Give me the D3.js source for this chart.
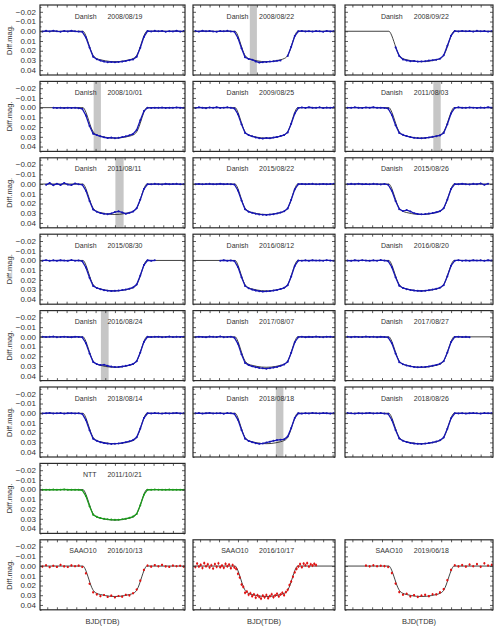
<!DOCTYPE html>
<html>
<head>
<meta charset="utf-8">
<script src="https://cdn.jsdelivr.net/npm/d3@7"></script>
<style>
  body { margin: 0; background: #fff; }
  svg { display: block; }
  text { font-family: "Liberation Sans", Arial, sans-serif; fill: #333; }
</style>
</head>
<body>
<div id="chart"></div>
<script>
// one entry per light curve, in reading order
const telescopes = ["Danish", "Danish", "Danish", "Danish", "Danish", "Danish", "Danish", "Danish", "Danish",
  "Danish", "Danish", "Danish", "Danish", "Danish", "Danish", "Danish", "Danish", "Danish",
  "NTT", "SAAO10", "SAAO10", "SAAO10"];
const dates = ["2008/08/19", "2008/08/22", "2008/09/22", "2008/10/01", "2009/08/25", "2011/08/03",
  "2011/08/11", "2015/08/22", "2015/08/26", "2015/08/30", "2016/08/12", "2016/08/20",
  "2016/08/24", "2017/08/07", "2017/08/27", "2018/08/14", "2018/08/18", "2018/08/26",
  "2011/10/21", "2016/10/13", "2016/10/17", "2019/06/18"];

// time of first sample (days from mid-transit) and sampling step
const firstTime = [-0.15, -0.15, -0.0525, -0.1275, -0.15, -0.15, -0.1425, -0.15, -0.15, -0.15, -0.0975, -0.15,
  -0.15, -0.15, -0.15, -0.15, -0.15, -0.15, -0.15, -0.15, -0.15, -0.1125];
const steps = [0.0075, 0.0075, 0.0075, 0.0075, 0.0075, 0.0075, 0.0075, 0.0075, 0.0075, 0.0075, 0.0075, 0.0075,
  0.0075, 0.0075, 0.0075, 0.0075, 0.0075, 0.0075, 0.0075, 0.0075, 0.00375, 0.0075];

// differential magnitudes
const mags = [
  [0.0003,-0.0004,0.0002,-0.0006,0.0001,0.0004,-0.0003,0.0002,-0.0005,0.0001,0.0003,
   0.0006,0.0065,0.0168,0.0262,0.0288,0.0301,0.0312,0.0318,0.0315,0.0320,0.0316,0.0312,0.0305,0.0298,0.0290,0.0262,0.0170,0.0058,-0.0002,
   0.0002,-0.0004,0.0001,-0.0003,0.0004,-0.0001,0.0002,-0.0005,0.0003,-0.0002],
  [-0.0002,0.0003,-0.0005,0.0001,-0.0003,0.0002,0.0004,-0.0002,0.0001,-0.0004,0.0002,
   0.0004,0.0070,0.0175,0.0268,0.0285,0.0292,0.0310,0.0322,0.0318,0.0315,0.0312,0.0309,0.0304,0.0300,null,0.0255,0.0160,0.0050,0.0001,
   -0.0003,0.0002,-0.0001,0.0003,-0.0002,0.0001,0.0004,-0.0003,0.0002,0.0000],
  [0.0165,0.0255,0.0290,0.0300,0.0308,0.0305,0.0312,0.0310,0.0308,0.0302,0.0298,0.0292,0.0283,0.0248,0.0150,0.0045,-0.0003,
   0.0002,-0.0003,0.0001,-0.0002,0.0003,-0.0004,0.0001,-0.0002,0.0003,-0.0001],
  [0.0001,0.0003,0.0002,0.0004,0.0001,0.0003,0.0002,0.0005,
   0.0012,0.0080,0.0190,0.0268,0.0282,0.0295,0.0305,0.0312,0.0308,0.0314,0.0310,0.0303,0.0295,0.0285,0.0270,0.0230,0.0130,0.0035,0.0002,
   0.0003,0.0001,0.0002,-0.0001,0.0003,0.0000,0.0002,-0.0002,0.0001,0.0002],
  [0.0004,-0.0003,0.0001,0.0005,-0.0002,0.0002,-0.0004,0.0003,0.0000,-0.0003,0.0002,
   0.0008,0.0068,0.0172,0.0260,0.0282,0.0295,0.0306,0.0314,0.0318,0.0312,0.0316,0.0308,0.0302,0.0292,0.0281,0.0255,0.0165,0.0060,0.0004,
   -0.0002,0.0003,-0.0004,0.0001,0.0002,-0.0003,0.0004,-0.0001,0.0002,-0.0003],
  [0.0000,0.0002,-0.0003,0.0001,0.0003,-0.0002,0.0001,-0.0004,0.0002,0.0000,0.0003,
   0.0010,0.0075,0.0180,0.0262,0.0280,0.0292,0.0303,0.0310,0.0313,0.0315,0.0311,0.0306,0.0300,0.0294,0.0286,0.0262,0.0170,0.0060,0.0003,
   -0.0003,0.0001,0.0002,-0.0002,0.0000,0.0003,-0.0001,0.0002,-0.0004,0.0001],
  [0.0008,-0.0010,0.0012,-0.0004,0.0009,-0.0012,0.0005,0.0010,-0.0006,0.0003,
   0.0006,0.0068,0.0175,0.0262,0.0285,0.0298,0.0306,0.0310,0.0302,0.0288,0.0281,0.0292,0.0305,0.0296,0.0283,0.0250,0.0160,0.0052,0.0001,
   0.0003,-0.0002,0.0001,0.0004,-0.0003,0.0002,0.0000,-0.0002,0.0003,0.0001],
  [0.0002,-0.0001,0.0003,0.0000,-0.0002,0.0002,0.0001,-0.0003,0.0002,0.0000,0.0001,
   0.0005,0.0066,0.0170,0.0260,0.0284,0.0296,0.0305,0.0312,0.0315,0.0318,0.0314,0.0310,0.0302,0.0293,0.0280,0.0252,0.0162,0.0055,0.0002,
   -0.0001,0.0002,0.0000,-0.0002,0.0003,0.0001,-0.0001,0.0002,0.0000,-0.0002],
  [0.0003,-0.0002,0.0001,-0.0004,0.0002,0.0000,0.0003,-0.0002,0.0001,0.0004,-0.0001,
   0.0007,0.0070,0.0175,0.0258,0.0278,0.0268,0.0282,0.0300,0.0308,0.0311,0.0309,0.0304,0.0298,0.0290,0.0279,0.0250,0.0158,0.0050,0.0000,
   0.0002,-0.0003,0.0001,0.0004,-0.0002,0.0001,-0.0006,0.0008,-0.0004],
  [0.0002,-0.0003,0.0004,-0.0001,0.0003,-0.0002,0.0001,0.0003,-0.0004,0.0002,0.0000,
   0.0009,0.0072,0.0178,0.0262,0.0283,0.0296,0.0306,0.0311,0.0314,0.0312,0.0310,0.0305,0.0299,0.0290,0.0277,0.0248,0.0155,0.0048,-0.0002,
   0.0003,-0.0001],
  [0.0002,-0.0002,0.0003,0.0000,
   0.0006,0.0068,0.0172,0.0262,0.0286,0.0299,0.0309,0.0316,0.0320,0.0318,0.0315,0.0310,0.0303,0.0294,0.0282,0.0255,0.0165,0.0056,0.0001,
   0.0002,-0.0001,0.0003,-0.0002,0.0001,0.0000,0.0002,-0.0003,0.0001,0.0002],
  [0.0001,0.0004,-0.0002,0.0002,-0.0003,0.0001,0.0003,-0.0001,0.0002,-0.0004,0.0001,
   0.0007,0.0069,0.0174,0.0261,0.0283,0.0295,0.0303,0.0309,0.0312,0.0314,0.0311,0.0306,0.0300,0.0292,0.0280,0.0254,0.0163,0.0054,0.0002,
   -0.0003,0.0002,0.0000,0.0003,-0.0002,0.0001,-0.0001,0.0004,-0.0002,0.0001],
  [-0.0001,0.0002,0.0000,-0.0003,0.0003,0.0001,-0.0002,0.0002,0.0004,-0.0001,0.0001,
   0.0005,0.0066,0.0170,0.0258,0.0280,0.0290,0.0286,0.0298,0.0306,0.0311,0.0309,0.0305,0.0298,0.0290,0.0279,0.0252,0.0160,0.0052,-0.0001,
   0.0002,0.0000,-0.0002,0.0003,0.0001,-0.0003,0.0002,0.0000,0.0001,-0.0002],
  [0.0003,-0.0002,0.0001,0.0004,-0.0003,0.0000,0.0002,-0.0004,0.0003,0.0001,-0.0002,
   0.0008,0.0072,0.0180,0.0268,0.0290,0.0303,0.0312,0.0320,0.0324,0.0327,0.0322,0.0316,0.0309,0.0298,0.0284,0.0256,0.0164,0.0055,0.0003,
   -0.0002,0.0004,-0.0001,0.0002,-0.0003,0.0001,0.0003,-0.0002,0.0000,0.0002],
  [0.0000,0.0003,-0.0002,0.0001,0.0002,-0.0003,0.0001,0.0000,0.0003,-0.0001,0.0002,
   0.0006,0.0067,0.0171,0.0260,0.0282,0.0294,0.0303,0.0309,0.0313,0.0311,0.0309,0.0304,0.0297,0.0289,0.0277,0.0250,0.0160,0.0053,0.0001,
   -0.0002,0.0002,0.0000,0.0003],
  [0.0002,0.0000,-0.0003,0.0002,0.0001,-0.0002,0.0003,0.0000,-0.0001,0.0002,0.0001,
   0.0007,0.0070,0.0175,0.0262,0.0284,0.0297,0.0306,0.0312,0.0316,0.0313,0.0310,0.0305,0.0298,0.0289,0.0276,0.0248,0.0157,0.0050,0.0000,
   0.0002,-0.0002,0.0001,0.0003,-0.0001,0.0002,0.0000,-0.0003,0.0002,0.0001],
  [0.0001,-0.0002,0.0003,0.0000,-0.0003,0.0002,0.0001,-0.0001,0.0004,-0.0002,0.0001,
   0.0006,0.0068,0.0172,0.0261,0.0285,0.0298,0.0308,0.0314,0.0310,0.0302,0.0292,0.0283,0.0276,0.0272,0.0268,0.0240,0.0152,0.0048,0.0000,
   0.0003,-0.0001,0.0002,-0.0003,0.0001,0.0002,-0.0002,0.0000,0.0003,-0.0001],
  [-0.0002,0.0001,0.0003,-0.0001,0.0002,0.0000,-0.0003,0.0002,0.0001,-0.0002,0.0003,
   0.0006,0.0069,0.0173,0.0260,0.0283,0.0296,0.0305,0.0311,0.0314,0.0316,0.0312,0.0307,0.0300,0.0291,0.0278,0.0250,0.0160,0.0052,0.0000,
   0.0002,-0.0001,0.0003,0.0000,-0.0002,0.0001,0.0003,-0.0002,0.0001,0.0000],
  [0.0001,0.0000,0.0002,-0.0001,0.0001,0.0000,-0.0002,0.0001,0.0000,0.0002,0.0001,
   0.0006,0.0066,0.0170,0.0258,0.0280,0.0292,0.0300,0.0305,0.0308,0.0310,0.0309,0.0305,0.0299,0.0290,0.0277,0.0250,0.0160,0.0052,0.0000,
   0.0001,-0.0001,0.0000,0.0002,0.0001,-0.0001,0.0001,0.0000,0.0002,0.0001],
  [0.0005,-0.0008,0.0012,-0.0003,0.0009,-0.0012,0.0004,0.0010,-0.0006,0.0002,-0.0004,
   0.0010,0.0075,0.0182,0.0270,0.0292,0.0310,0.0298,0.0318,0.0305,0.0322,0.0308,0.0315,0.0296,0.0302,0.0280,0.0242,0.0150,0.0040,-0.0005,
   0.0006,-0.0010,0.0003,-0.0012,0.0004,0.0009,-0.0005,0.0002,-0.0003,0.0006],
  [0.0010,-0.0025,0.0005,-0.0012,0.0020,-0.0030,0.0002,-0.0018,0.0015,-0.0008,0.0025,-0.0020,0.0008,-0.0028,
   0.0012,-0.0005,0.0018,-0.0022,0.0003,-0.0015,0.0022,-0.0010,0.0014,
   0.0030,0.0080,0.0118,0.0190,0.0215,0.0275,0.0262,0.0295,0.0280,0.0310,0.0292,0.0325,0.0300,0.0318,0.0335,
   0.0305,0.0322,0.0298,0.0330,0.0310,0.0290,0.0320,0.0302,0.0285,0.0312,0.0292,0.0275,0.0300,0.0268,
   0.0245,0.0195,0.0160,0.0110,0.0065,0.0030,0.0005,
   -0.0020,0.0012,-0.0025,-0.0008,-0.0030,0.0005,-0.0018,-0.0005,-0.0022,-0.0010],
  [-0.0005,0.0003,-0.0008,0.0002,-0.0003,0.0001,
   0.0010,0.0072,0.0180,0.0268,0.0295,0.0285,0.0312,0.0300,0.0318,0.0305,0.0296,0.0310,0.0290,0.0292,0.0270,0.0238,0.0145,0.0040,-0.0008,
   0.0004,-0.0010,0.0006,-0.0015,0.0002,-0.0020,0.0008,-0.0028,-0.0005,-0.0012]
];

// photometric error bars (SAAO only)
const errs = [0, 0, 0, 0, 0, 0, 0, 0, 0, 0, 0, 0, 0, 0, 0, 0, 0, 0, 0, 0.0011, 0.0016, 0.0013];

// grey bands marking spot-crossing windows (days)
const bands = [null, [-0.035, -0.020], null, [-0.044, -0.029], null, [0.024, 0.039],
  [0.001, 0.018], null, null, null, null, null,
  [-0.029, -0.013], null, null, null, [0.020, 0.036], null,
  null, null, null, null];

// best-fit transit model
const modelTime = [-0.155, -0.066, -0.062, -0.058, -0.054, -0.050, -0.046, -0.043, -0.038, -0.030, -0.020, -0.010, 0,
  0.010, 0.020, 0.030, 0.038, 0.043, 0.046, 0.050, 0.054, 0.058, 0.062, 0.066, 0.145];
const modelMag = [0, 0, 0.0025, 0.0075, 0.0135, 0.0195, 0.0240, 0.0262, 0.0280, 0.0293, 0.0304, 0.0311, 0.0313,
  0.0311, 0.0304, 0.0293, 0.0280, 0.0262, 0.0240, 0.0195, 0.0135, 0.0075, 0.0025, 0, 0];

const yTicks = [-0.02, -0.01, 0.00, 0.01, 0.02, 0.03, 0.04];
const yMinorTicks = [-0.025, -0.015, -0.005, 0.005, 0.015, 0.025, 0.035, 0.045];
const timeTicks = [-0.14, -0.12, -0.10, -0.08, -0.06, -0.04, -0.02, 0, 0.02, 0.04, 0.06, 0.08, 0.10, 0.12, 0.14];
const yLabel = "Diff.mag.";
const xLabel = "BJD(TDB)";

(function () {
  const width = 497;
  const height = 627;
  const colLeft = [40, 193, 345];
  const colWidth = [145, 142, 148];
  const rowTop = 5;
  const rowPitch = 76.4;
  const panelH = 70;
  const colorMap = { Danish: "#1616b4", NTT: "#1c9a1c", SAAO10: "#e01010" };
  // NTT curve sits alone in row 7, SAAO curves fill row 8
  const slots = d3.range(19).concat([21, 22, 23]);

  const svg = d3.select("#chart").append("svg").attr("width", width).attr("height", height);

  const model = modelTime.map((t, i) => ({ t, m: modelMag[i] }));

  const panels = telescopes.map((tel, i) => ({
    tel,
    date: dates[i],
    band: bands[i],
    err: errs[i],
    points: mags[i].map((m, j) => ({ t: firstTime[i] + j * steps[i], m })),
    row: Math.floor(slots[i] / 3),
    col: slots[i] % 3,
    idx: i,
  }));

  const yScale = d3.scaleLinear().domain([-0.027, 0.045]).range([0, panelH]);

  panels.forEach(p => {
    const w = colWidth[p.col];
    const x0 = colLeft[p.col];
    const y0 = rowTop + p.row * rowPitch;
    const xScale = d3.scaleLinear().domain([-0.155, 0.145]).range([0, w]);
    const color = colorMap[p.tel];

    const g = svg.append("g").attr("transform", `translate(${x0}, ${y0})`);

    const clipId = `clip${p.idx}`;
    g.append("clipPath").attr("id", clipId).append("rect").attr("width", w).attr("height", panelH);
    const plot = g.append("g").attr("clip-path", `url(#${clipId})`);

    if (p.band) {
      plot
        .append("rect")
        .attr("x", xScale(p.band[0]))
        .attr("y", 0)
        .attr("width", xScale(p.band[1]) - xScale(p.band[0]))
        .attr("height", panelH)
        .attr("fill", "#c6c6c6");
    }

    const line = d3
      .line()
      .defined(d => d.m !== null)
      .x(d => xScale(d.t))
      .y(d => yScale(d.m));

    plot
      .append("path")
      .attr("d", line.curve(d3.curveMonotoneX)(model))
      .attr("fill", "none")
      .attr("stroke", "#111")
      .attr("stroke-width", 0.8);

    const pts = p.points.filter(d => d.m !== null);

    if (p.err > 0) {
      plot
        .selectAll(".err")
        .data(pts)
        .join("line")
        .attr("class", "err")
        .attr("x1", d => xScale(d.t))
        .attr("x2", d => xScale(d.t))
        .attr("y1", d => yScale(d.m - p.err))
        .attr("y2", d => yScale(d.m + p.err))
        .attr("stroke", color)
        .attr("stroke-width", 0.7);
    } else {
      plot
        .append("path")
        .attr("d", d3.line().defined(d => d.m !== null).x(d => xScale(d.t)).y(d => yScale(d.m))(p.points))
        .attr("fill", "none")
        .attr("stroke", color)
        .attr("stroke-width", 1.3);
    }

    plot
      .selectAll(".pt")
      .data(pts)
      .join("circle")
      .attr("class", "pt")
      .attr("cx", d => xScale(d.t))
      .attr("cy", d => yScale(d.m))
      .attr("r", p.err > 0 ? 1.1 : 1)
      .attr("fill", color);

    // frame ticks, inward on all four sides
    const axes = [
      { axis: d3.axisLeft(yScale).tickValues(yTicks), tr: "translate(0,0)", size: -3 },
      { axis: d3.axisLeft(yScale).tickValues(yMinorTicks), tr: "translate(0,0)", size: -1.5 },
      { axis: d3.axisRight(yScale).tickValues(yTicks), tr: `translate(${w},0)`, size: -3 },
      { axis: d3.axisRight(yScale).tickValues(yMinorTicks), tr: `translate(${w},0)`, size: -1.5 },
      { axis: d3.axisBottom(xScale).tickValues(timeTicks), tr: `translate(0,${panelH})`, size: -2.5 },
      { axis: d3.axisTop(xScale).tickValues(timeTicks), tr: "translate(0,0)", size: -2.5 },
    ];
    axes.forEach(a => {
      const ag = g
        .append("g")
        .attr("transform", a.tr)
        .call(a.axis.tickSize(a.size).tickFormat(""));
      ag.select(".domain").remove();
      ag.selectAll("line").attr("stroke", "#333").attr("stroke-width", 0.8);
    });

    g.append("rect")
      .attr("width", w)
      .attr("height", panelH)
      .attr("fill", "none")
      .attr("stroke", "#2a2a2a")
      .attr("stroke-width", 1.2);

    if (p.col === 0) {
      g.selectAll(".ytl")
        .data(yTicks)
        .join("text")
        .attr("class", "ytl")
        .attr("x", -4)
        .attr("y", d => yScale(d))
        .attr("dy", "0.35em")
        .attr("text-anchor", "end")
        .attr("font-size", "8px")
        .text(d => d3.format(".2f")(d));

      g.append("text")
        .attr("transform", `translate(${9 - x0}, ${panelH / 2}) rotate(-90)`)
        .attr("text-anchor", "middle")
        .attr("dy", "0.35em")
        .attr("font-size", "7.5px")
        .text(yLabel);
    }

    g.append("text")
      .attr("x", w * 0.39)
      .attr("y", 13.5)
      .attr("text-anchor", "end")
      .attr("font-size", "7px")
      .text(p.tel);
    g.append("text")
      .attr("x", w * 0.465)
      .attr("y", 13.5)
      .attr("text-anchor", "start")
      .attr("font-size", "7px")
      .text(p.date);

    if (p.row === 7) {
      g.append("text")
        .attr("x", p.col === 0 ? w / 2 - 10 : w / 2)
        .attr("y", panelH + 12)
        .attr("dy", "0.35em")
        .attr("text-anchor", "middle")
        .attr("font-size", "7.5px")
        .text(xLabel);
    }
  });
})();
</script>
</body>
</html>
